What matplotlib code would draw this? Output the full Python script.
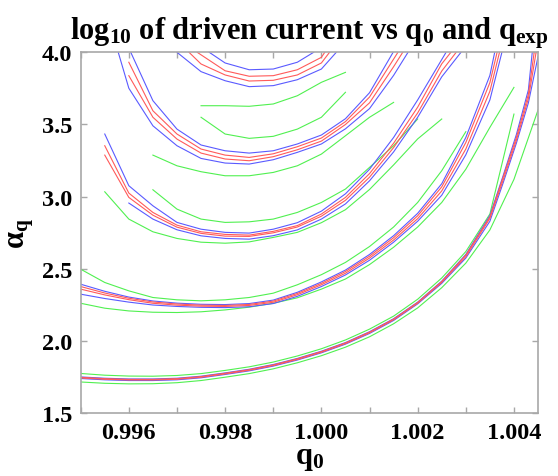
import numpy as np
import matplotlib
matplotlib.use("Agg")
import matplotlib.pyplot as plt
from matplotlib.ticker import MultipleLocator

plt.rcParams['font.family'] = ['Liberation Serif', 'DejaVu Serif']
plt.rcParams['font.weight'] = 'bold'
plt.rcParams['mathtext.fontset'] = 'custom'
plt.rcParams['mathtext.rm'] = 'Liberation Serif:bold'
plt.rcParams['mathtext.it'] = 'Liberation Serif:bold'
plt.rcParams['mathtext.bf'] = 'Liberation Serif:bold'

# contour lines, (q0, alpha_q) pairs
# top U band
d_blue_out = [(0.99700, 4.0), (0.9975, 3.866), (0.998, 3.803), (0.9985, 3.762), (0.999, 3.769),
              (0.9995, 3.810), (1.0, 3.884), (1.00031, 4.0)]
d_red_out = [(0.99725, 4.0), (0.9975, 3.919), (0.998, 3.843), (0.9985, 3.801), (0.999, 3.806),
             (0.9995, 3.843), (1.0, 3.926), (1.00017, 4.0)]
d_red_in = [(0.99742, 4.0), (0.998, 3.872), (0.9985, 3.834), (0.999, 3.838), (0.9995, 3.879),
            (1.0, 3.965), (1.00007, 4.0)]
d_blue_in = [(0.99767, 4.0), (0.998, 3.926), (0.9985, 3.879), (0.999, 3.884), (0.9995, 3.931),
             (0.99984, 4.0)]

# second band
c_blue_out = [(0.99578, 4.0), (0.996, 3.751), (0.9965, 3.491), (0.997, 3.353), (0.9975, 3.265),
              (0.998, 3.233), (0.9985, 3.226), (0.999, 3.256), (0.9995, 3.307), (1.0, 3.365),
              (1.0005, 3.47), (1.001, 3.61), (1.0015, 3.84), (1.0018, 4.0)]
c_red_out = [(0.996, 3.838), (0.9965, 3.550), (0.997, 3.399), (0.9975, 3.302), (0.998, 3.261),
             (0.9985, 3.249), (0.999, 3.277), (0.9995, 3.325), (1.0, 3.385), (1.0005, 3.50),
             (1.001, 3.65), (1.0015, 3.90), (1.00169, 4.0)]
c_red_in = [(0.996, 3.931), (0.9965, 3.595), (0.997, 3.434), (0.9975, 3.330), (0.998, 3.288),
            (0.9985, 3.272), (0.999, 3.297), (0.9995, 3.346), (1.0, 3.406), (1.0005, 3.52),
            (1.001, 3.69), (1.00159, 4.0)]
c_blue_in = [(0.99604, 4.0), (0.9965, 3.665), (0.997, 3.468), (0.9975, 3.358), (0.998, 3.318),
             (0.9985, 3.302), (0.999, 3.318), (0.9995, 3.365), (1.0, 3.427), (1.0005, 3.54),
             (1.001, 3.72), (1.00149, 4.0)]

g_dc1 = [(0.9975, 3.630), (0.998, 3.630), (0.9985, 3.626), (0.999, 3.642), (0.9995, 3.699),
         (1.0, 3.792), (1.0005, 3.861)]
g_dc2 = [(0.9975, 3.550), (0.998, 3.434), (0.9985, 3.404), (0.999, 3.418), (0.9995, 3.468),
         (1.0, 3.550), (1.0005, 3.723)]
g_cb1 = [(0.9965, 3.288), (0.997, 3.214), (0.9975, 3.173), (0.998, 3.145), (0.9985, 3.145),
         (0.999, 3.168), (0.9995, 3.214), (1.0, 3.295), (1.0005, 3.422), (1.001, 3.550),
         (1.0015, 3.653)]
g_cb2 = [(0.9965, 3.048), (0.997, 2.914), (0.9975, 2.845), (0.998, 2.822), (0.9985, 2.826),
         (0.999, 2.845), (0.9995, 2.891), (1.0, 2.960), (1.0005, 3.053), (1.001, 3.203),
         (1.0015, 3.353), (1.002, 3.538)]

# third band
b_blue_in = [(0.9955, 3.434), (0.996, 3.076), (0.9965, 2.937), (0.997, 2.822), (0.9975, 2.775),
             (0.998, 2.753), (0.9985, 2.748), (0.999, 2.775), (0.9995, 2.82), (1.0, 2.90),
             (1.0005, 3.02), (1.001, 3.19), (1.0015, 3.41), (1.002, 3.67), (1.00259, 4.0)]
b_red1 = [(0.9955, 3.353), (0.996, 3.025), (0.9965, 2.891), (0.997, 2.803), (0.9975, 2.757),
          (0.998, 2.739), (0.9985, 2.734), (0.999, 2.76), (0.9995, 2.80), (1.0, 2.88),
          (1.0005, 2.995), (1.001, 3.16), (1.0015, 3.37), (1.002, 3.62), (1.0025, 3.92),
          (1.00269, 4.0)]
b_red2 = [(0.9955, 3.288), (0.996, 2.995), (0.9965, 2.872), (0.997, 2.789), (0.9975, 2.746),
          (0.998, 2.727), (0.9985, 2.725), (0.999, 2.75), (0.9995, 2.79), (1.0, 2.865),
          (1.0005, 2.975), (1.001, 3.135), (1.0015, 3.34), (1.002, 3.58), (1.0025, 3.87),
          (1.0028, 4.0)]
b_blue_out = [(0.996, 2.956), (0.9965, 2.845), (0.997, 2.771), (0.9975, 2.729), (0.998, 2.711),
              (0.9985, 2.706), (0.999, 2.73), (0.9995, 2.77), (1.0, 2.845), (1.0005, 2.95),
              (1.001, 3.11), (1.0015, 3.31), (1.002, 3.55), (1.0025, 3.83), (1.0029, 4.0)]
g_b_out = [(0.9955, 3.034), (0.996, 2.845), (0.9965, 2.757), (0.997, 2.711), (0.9975, 2.685),
           (0.998, 2.678), (0.9985, 2.687), (0.999, 2.718), (0.9995, 2.753), (1.0, 2.82),
           (1.0005, 2.91), (1.001, 3.05), (1.0015, 3.22), (1.002, 3.40), (1.0025, 3.538)]

# fourth band
a_g_top = [(0.995, 2.498), (0.9955, 2.406), (0.996, 2.348), (0.9965, 2.302), (0.997, 2.286),
           (0.9975, 2.279), (0.998, 2.286), (0.9985, 2.302), (0.999, 2.332), (0.9995, 2.39),
           (1.0, 2.46), (1.0005, 2.545), (1.001, 2.655), (1.0015, 2.79), (1.002, 2.96),
           (1.0025, 3.18), (1.003, 3.45)]
a_blue_up = [(0.995, 2.394), (0.9955, 2.345), (0.996, 2.305), (0.9965, 2.278), (0.997, 2.263),
             (0.9975, 2.255), (0.998, 2.253), (0.9985, 2.26), (0.999, 2.284), (0.9995, 2.338),
             (1.0, 2.41), (1.0005, 2.492), (1.001, 2.60), (1.0015, 2.73), (1.002, 2.885),
             (1.0025, 3.09), (1.003, 3.41), (1.0035, 3.84), (1.0036, 4.0)]
a_red1 = [(0.995, 2.378), (0.9955, 2.333), (0.996, 2.297), (0.9965, 2.271), (0.997, 2.257),
          (0.9975, 2.249), (0.998, 2.247), (0.9985, 2.254), (0.999, 2.277), (0.9995, 2.330),
          (1.0, 2.40), (1.0005, 2.482), (1.001, 2.588), (1.0015, 2.716), (1.002, 2.868),
          (1.0025, 3.068), (1.003, 3.375), (1.0035, 3.79), (1.00365, 4.0)]
a_red2 = [(0.995, 2.36), (0.9955, 2.32), (0.996, 2.287), (0.9965, 2.262), (0.997, 2.249),
          (0.9975, 2.242), (0.998, 2.24), (0.9985, 2.247), (0.999, 2.269), (0.9995, 2.321),
          (1.0, 2.39), (1.0005, 2.47), (1.001, 2.575), (1.0015, 2.70), (1.002, 2.848),
          (1.0025, 3.04), (1.003, 3.33), (1.0035, 3.73), (1.0037, 4.0)]
a_blue_lo = [(0.995, 2.325), (0.9955, 2.295), (0.996, 2.27), (0.9965, 2.25), (0.997, 2.24),
             (0.9975, 2.234), (0.998, 2.232), (0.9985, 2.238), (0.999, 2.26), (0.9995, 2.31),
             (1.0, 2.378), (1.0005, 2.458), (1.001, 2.56), (1.0015, 2.685), (1.002, 2.83),
             (1.0025, 3.01), (1.003, 3.29), (1.0035, 3.67), (1.00375, 4.0)]
a_g_lo = [(0.995, 2.262), (0.9955, 2.228), (0.996, 2.209), (0.9965, 2.2), (0.997, 2.198),
          (0.9975, 2.203), (0.998, 2.216), (0.9985, 2.235), (0.999, 2.262), (0.9995, 2.3),
          (1.0, 2.36), (1.0005, 2.43), (1.001, 2.53), (1.0015, 2.65), (1.002, 2.79),
          (1.0025, 2.96), (1.003, 3.19), (1.0035, 3.48), (1.004, 3.757)]

# lowest band
z_g_up = [(0.995, 1.776), (0.9955, 1.764), (0.996, 1.758), (0.9965, 1.757), (0.997, 1.762),
          (0.9975, 1.775), (0.998, 1.797), (0.9985, 1.822), (0.999, 1.855), (0.9995, 1.897),
          (1.0, 1.947), (1.0005, 2.008), (1.001, 2.083), (1.0015, 2.173), (1.002, 2.29),
          (1.0025, 2.437), (1.003, 2.62), (1.0035, 2.88), (1.004, 3.572)]
z_blue_up = [(0.995, 1.752), (0.9955, 1.743), (0.996, 1.738), (0.9965, 1.738), (0.997, 1.743),
             (0.9975, 1.757), (0.998, 1.780), (0.9985, 1.805), (0.999, 1.838), (0.9995, 1.880),
             (1.0, 1.930), (1.0005, 1.990), (1.001, 2.065), (1.0015, 2.155), (1.002, 2.27),
             (1.0025, 2.415), (1.003, 2.60), (1.0035, 2.87), (1.00377, 3.14), (1.00405, 3.43),
             (1.0043, 3.74), (1.00438, 4.0)]
z_red1 = [(0.995, 1.749), (0.9955, 1.740), (0.996, 1.735), (0.9965, 1.735), (0.997, 1.740),
          (0.9975, 1.754), (0.998, 1.777), (0.9985, 1.802), (0.999, 1.835), (0.9995, 1.877),
          (1.0, 1.927), (1.0005, 1.987), (1.001, 2.062), (1.0015, 2.152), (1.002, 2.267),
          (1.0025, 2.412), (1.003, 2.595), (1.0035, 2.86), (1.00377, 3.13), (1.00405, 3.41),
          (1.0043, 3.71), (1.00442, 4.0)]
z_red2 = [(0.995, 1.745), (0.9955, 1.736), (0.996, 1.731), (0.9965, 1.731), (0.997, 1.736),
          (0.9975, 1.750), (0.998, 1.773), (0.9985, 1.798), (0.999, 1.831), (0.9995, 1.873),
          (1.0, 1.923), (1.0005, 1.983), (1.001, 2.058), (1.0015, 2.148), (1.002, 2.263),
          (1.0025, 2.407), (1.003, 2.585), (1.0035, 2.85), (1.00377, 3.11), (1.00405, 3.39),
          (1.0043, 3.68), (1.00446, 4.0)]
z_blue_lo = [(0.995, 1.741), (0.9955, 1.732), (0.996, 1.727), (0.9965, 1.727), (0.997, 1.732),
             (0.9975, 1.746), (0.998, 1.769), (0.9985, 1.794), (0.999, 1.827), (0.9995, 1.869),
             (1.0, 1.919), (1.0005, 1.979), (1.001, 2.053), (1.0015, 2.143), (1.002, 2.258),
             (1.0025, 2.40), (1.003, 2.575), (1.0035, 2.83), (1.00377, 3.09), (1.00405, 3.37),
             (1.0043, 3.65), (1.0045, 3.97)]
z_g_lo = [(0.995, 1.717), (0.9955, 1.708), (0.996, 1.704), (0.9965, 1.705), (0.997, 1.712),
          (0.9975, 1.727), (0.998, 1.750), (0.9985, 1.775), (0.999, 1.808), (0.9995, 1.850),
          (1.0, 1.899), (1.0005, 1.958), (1.001, 2.03), (1.0015, 2.12), (1.002, 2.23),
          (1.0025, 2.37), (1.003, 2.54), (1.0035, 2.77), (1.004, 3.12), (1.0045, 3.6)]

BLUE = '#5a5aff'
RED = '#ff5a5a'
GREEN = '#50f050'

lines = [
    (g_dc1, GREEN), (g_dc2, GREEN), (g_cb1, GREEN), (g_cb2, GREEN), (g_b_out, GREEN),
    (a_g_top, GREEN), (a_g_lo, GREEN), (z_g_up, GREEN), (z_g_lo, GREEN),
    (d_blue_out, BLUE), (d_blue_in, BLUE), (d_red_out, RED), (d_red_in, RED),
    (c_blue_out, BLUE), (c_blue_in, BLUE), (c_red_out, RED), (c_red_in, RED),
    (b_blue_in, BLUE), (b_blue_out, BLUE), (b_red1, RED), (b_red2, RED),
    (a_blue_up, BLUE), (a_blue_lo, BLUE), (a_red1, RED), (a_red2, RED),
    (z_blue_up, BLUE), (z_blue_lo, BLUE), (z_red1, RED), (z_red2, RED),
]

fig = plt.figure(figsize=(5.58, 4.77), dpi=100)
ax = fig.add_axes([0.1446, 0.1314, 0.8196, 0.7569])

for pts, col in lines:
    xs, ys = zip(*pts)
    ax.plot(xs, ys, color=col, lw=0.8)

ax.set_xlim(0.995, 1.0045)
ax.set_ylim(1.5, 4.0)
ax.xaxis.set_major_locator(MultipleLocator(0.002))
ax.xaxis.set_minor_locator(MultipleLocator(0.001))
ax.yaxis.set_major_locator(MultipleLocator(0.5))
ax.xaxis.set_major_formatter(plt.FuncFormatter(lambda v, p: f"{v:.3f}"))
ax.yaxis.set_major_formatter(plt.FuncFormatter(lambda v, p: f"{v:.1f}"))

for s in ax.spines.values():
    s.set_color('#a8a8a8')
    s.set_linewidth(1.2)
ax.tick_params(which='both', direction='in', top=True, right=True, color='#a8a8a8',
               length=4, width=1.0, labelsize=17.5, pad=6)
for lab in ax.get_xticklabels() + ax.get_yticklabels():
    lab.set_fontweight('bold')

ax.set_title(r"$\mathrm{log}_{10}$ of driven current vs q$_0$ and q$_{exp}$",
             fontsize=22, fontweight='bold', pad=10)
ax.set_xlabel(r"q$_0$", fontsize=22, fontweight='bold', labelpad=0)
ax.set_ylabel(r"$\alpha_\mathrm{q}$", fontsize=22, fontweight='bold', labelpad=4)

fig.savefig("out.png", dpi=100)
